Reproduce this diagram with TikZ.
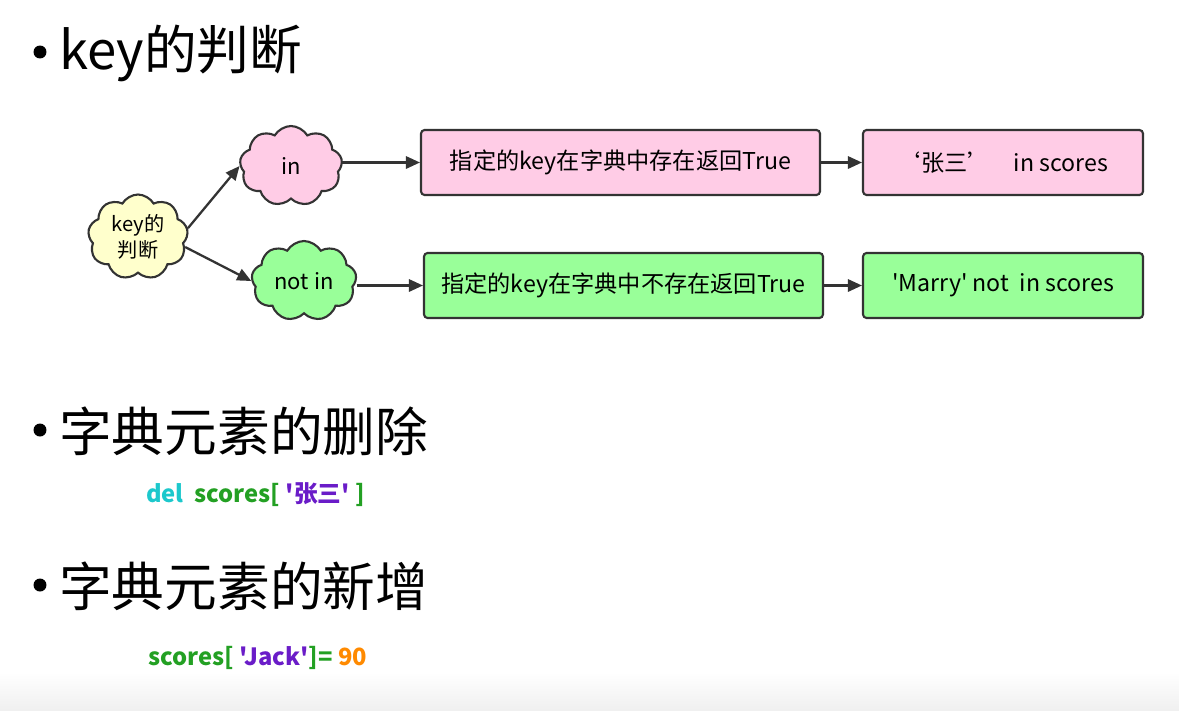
\documentclass[tikz,border=0pt]{standalone}
\usepackage{fontspec}
\setmainfont{Noto Sans CJK SC}[Ligatures=TeXOff]
\usetikzlibrary{shapes.symbols,arrows.meta}
\definecolor{pinkfill}{HTML}{FFCCE6}
\definecolor{greenfill}{HTML}{99FF99}
\definecolor{yellowfill}{HTML}{FFFFCC}
\definecolor{edge}{HTML}{333333}
\definecolor{delcyan}{HTML}{1CC8CC}
\definecolor{codegreen}{HTML}{23A023}
\definecolor{codepurple}{HTML}{6A1CC8}
\definecolor{codeorange}{HTML}{FF8A00}
\begin{document}
\begin{tikzpicture}[x=0.02cm,y=-0.02cm,
    bubble/.style={cloud,cloud puffs=9,cloud puff arc=120,aspect=1.3,draw=edge,line width=1.2pt,inner sep=0pt,font=\fontsize{12.5}{14}\selectfont},
    card/.style={rectangle,rounded corners=2pt,draw=edge,line width=1.2pt,minimum height=1.3cm,inner sep=0pt,font=\fontsize{13.2}{15}\selectfont},
    link/.style={-{Triangle[length=8pt,width=7pt]},draw=edge,line width=1.3pt},
    heading/.style={anchor=west,font=\fontsize{30}{34}\selectfont},
    dot/.style={circle,fill=black,inner sep=0pt,minimum size=0.26cm}]
  \useasboundingbox (0,0) rectangle (1179,710);
  \shade[top color=white,bottom color=black!6] (0,672) rectangle (1179,710);

  \node[dot] (d1) at (40,52) {};
  \node[heading] (t1) at (53,53) {key的判断};
  \node[dot] (d2) at (40,430) {};
  \node[heading] (t2) at (53,431) {字典元素的删除};
  \node[dot] (d3) at (40,585) {};
  \node[heading] (t3) at (53,586) {字典元素的新增};

  \node[bubble,fill=yellowfill,minimum width=2cm,minimum height=1.7cm,align=center,font=\fontsize{11.5}{15}\selectfont] (key) at (138,237) {key的\\判断};
  \node[bubble,fill=pinkfill,minimum width=2.05cm,minimum height=1.6cm] (in) at (291,166) {in};
  \node[bubble,fill=greenfill,minimum width=2.1cm,minimum height=1.6cm] (notin) at (304,281) {not in};

  \node[card,fill=pinkfill,minimum width=7.98cm] (has) at (620.5,162.5) {指定的key在字典中存在返回True};
  \node[card,fill=pinkfill,minimum width=5.6cm] (hasex) at (1003,162.5) {‘张三’\quad in scores};
  \node[card,fill=greenfill,minimum width=7.98cm] (nohas) at (623.5,285.5) {指定的key在字典中不存在返回True};
  \node[card,fill=greenfill,minimum width=5.6cm] (nohasex) at (1003,285.5) {'Marry' not\ \ in scores};

  \draw[link] (key.10) -- (in.west);
  \draw[link] (key.-12) -- (notin.west);
  \draw[link] (in.east |- has.west) -- (has.west);
  \draw[link] (notin.east |- nohas.west) -- (nohas.west);
  \draw[link] (has) -- (hasex);
  \draw[link] (nohas) -- (nohasex);

  \node[anchor=west,font=\fontsize{13.5}{15}\selectfont\bfseries] (del) at (140,495) {\color{delcyan}del\ \ \color{codegreen}scores[ \color{codepurple}'张三' \color{codegreen}]};
  \node[anchor=west,font=\fontsize{13.5}{15}\selectfont\bfseries] (add) at (142,658) {\color{codegreen}scores[ \color{codepurple}'Jack'\color{codegreen}]= \color{codeorange}90};
\end{tikzpicture}
\end{document}
